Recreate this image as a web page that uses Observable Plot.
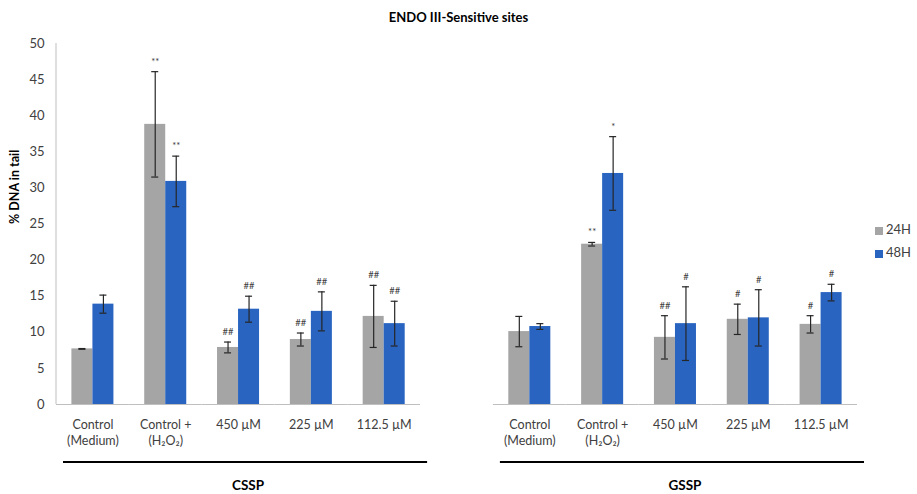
<!DOCTYPE html>
<html>
<head>
<meta charset="utf-8">
<script src="https://cdn.jsdelivr.net/npm/d3@7"></script>
<script src="https://cdn.jsdelivr.net/npm/@observablehq/plot@0.6"></script>
<style>
  body { margin: 0; background: #fff; }
  #wrap { position: relative; width: 917px; height: 494px; font-family: Lato, "Open Sans", "DejaVu Sans", sans-serif; }
  #title { height: 34px; line-height: 34px; text-align: center; font-weight: bold; font-size: 13px; color: #000; }
</style>
</head>
<body>
<div id="wrap">
  <div id="title">ENDO III-Sensitive sites</div>
  <div id="chart"></div>
</div>
<script>
// ---- data ----
const categories = ["Control\n(Medium)", "Control +\n(H\u2082O\u2082)", "450 \u00b5M", "225 \u00b5M", "112.5 \u00b5M"];
const groups = ["CSSP", "GSSP"];
const series = ["24H", "48H"];
const yTicks = [0, 5, 10, 15, 20, 25, 30, 35, 40, 45, 50];

const csspMean24 = [7.7, 38.8, 7.9, 9.0, 12.2];
const csspErr24  = [0.05, 7.3, 0.75, 0.9, 4.3];
const csspMean48 = [13.9, 30.9, 13.2, 12.9, 11.2];
const csspErr48  = [1.25, 3.5, 1.8, 2.7, 3.1];
const gsspMean24 = [10.1, 22.2, 9.3, 11.8, 11.1];
const gsspErr24  = [2.1, 0.25, 3.0, 2.1, 1.2];
const gsspMean48 = [10.8, 32.0, 11.2, 12.0, 15.5];
const gsspErr48  = [0.4, 5.1, 5.1, 3.9, 1.15];
const csspSig24 = ["", "**", "##", "##", "##"];
const csspSig48 = ["", "**", "##", "##", "##"];
const gsspSig24 = ["", "**", "##", "#", "#"];
const gsspSig48 = ["", "*", "#", "#", "#"];

// ---- build table ----
const table = {
  CSSP: {"24H": [csspMean24, csspErr24, csspSig24], "48H": [csspMean48, csspErr48, csspSig48]},
  GSSP: {"24H": [gsspMean24, gsspErr24, gsspSig24], "48H": [gsspMean48, gsspErr48, gsspSig48]}
};
const keyOf = (g, i) => g + "|" + i;
const labelOf = {};
const fxDomain = [];
groups.forEach((g, gi) => {
  if (gi > 0) { fxDomain.push("gap"); labelOf["gap"] = ""; }
  categories.forEach((c, i) => { fxDomain.push(keyOf(g, i)); labelOf[keyOf(g, i)] = c; });
});
const data = [];
groups.forEach(g => series.forEach(s => categories.forEach((c, i) => {
  const [m, e, sig] = table[g][s];
  data.push({key: keyOf(g, i), group: g, series: s, value: m[i], lo: m[i] - e[i], hi: m[i] + e[i], sig: sig[i]});
})));
const firstKey = fxDomain[0];

const font = "Lato, 'Open Sans', 'DejaVu Sans', sans-serif";
const plot = Plot.plot({
  width: 917,
  height: 460,
  marginTop: 9,
  marginBottom: 90,
  marginLeft: 56,
  marginRight: 60,
  style: {fontFamily: font, fontSize: "13px", color: "#404040", background: "#fff", overflow: "visible"},
  fx: {domain: fxDomain, padding: 0, round: false},
  x: {domain: series, paddingInner: 0, paddingOuter: 0.733, round: false, axis: null},
  y: {domain: [0, 50]},
  color: {domain: series, range: ["#A5A5A5", "#2864C0"]},
  marks: [
    Plot.barY(data, {fx: "key", x: "series", y: "value", fill: "series"}),
    Plot.ruleY([0], {stroke: "#BFBFBF", strokeWidth: 1}),
    Plot.ruleX(data, {fx: "key", x: "series", y1: "lo", y2: "hi", stroke: "#262626", strokeWidth: 1.2}),
    Plot.tickY(data, {fx: "key", x: "series", y: "hi", stroke: "#262626", strokeWidth: 1.2, insetLeft: 7, insetRight: 7}),
    Plot.tickY(data, {fx: "key", x: "series", y: "lo", stroke: "#262626", strokeWidth: 1.2, insetLeft: 7, insetRight: 7}),
    Plot.text(data.filter(d => d.sig), {fx: "key", x: "series", y: "hi", text: "sig", dy: -10, fontSize: 9.5, fill: "#404040"}),
    Plot.axisY(yTicks, {fx: () => firstKey, facetAnchor: null, tickSize: 0, tickPadding: 12, label: null, fontSize: 13}),
    Plot.axisFx({anchor: "bottom", tickSize: 0, tickPadding: 13, tickFormat: k => labelOf[k], label: null, fontSize: 12.5, lineHeight: 1.3}),
    Plot.text(["% DNA in tail"], {fx: () => firstKey, frameAnchor: "left", dx: -42, rotate: -90, fontWeight: "bold", fontSize: 12.5, fill: "#000"})
  ]
});
document.getElementById("chart").appendChild(plot);

// ---- extra decorations positioned from Plot scales ----
const svg = d3.select(plot.tagName.toLowerCase() === "svg" ? plot : plot.querySelector("svg"));
const fxs = plot.scale("fx");
const ys = plot.scale("y");
const colors = plot.scale("color");
const fxBand = d3.scaleBand().domain(fxs.domain).range(fxs.range).padding(0);
const y0 = ys.apply ? ys.apply(0) : ys.range[0];
const y50 = ys.apply ? ys.apply(50) : ys.range[1];
const left = fxs.range[0];

// y axis line
svg.append("line").attr("x1", left).attr("x2", left).attr("y1", y50).attr("y2", y0)
  .attr("stroke", "#BFBFBF").attr("stroke-width", 1);

// group underline + labels
groups.forEach(g => {
  const x1 = fxBand(keyOf(g, 0)) + 7;
  const x2 = fxBand(keyOf(g, categories.length - 1)) + fxBand.bandwidth() + 7;
  svg.append("line").attr("x1", x1).attr("x2", x2).attr("y1", y0 + 58).attr("y2", y0 + 58)
    .attr("stroke", "#000").attr("stroke-width", 2);
  svg.append("text").attr("x", (x1 + x2) / 2 + 3).attr("y", y0 + 83).attr("text-anchor", "middle")
    .attr("dominant-baseline", "middle").attr("font-weight", "bold").attr("font-size", 13.5)
    .attr("font-family", font).attr("fill", "#000").text(g);
});

// legend
series.forEach((s, i) => {
  const cy = 197 + i * 23;
  svg.append("rect").attr("x", 875).attr("y", cy - 4).attr("width", 8).attr("height", 8)
    .attr("fill", colors.apply(s));
  svg.append("text").attr("x", 886).attr("y", cy).attr("text-anchor", "start").attr("dominant-baseline", "middle")
    .attr("font-size", 13).attr("font-family", font).attr("fill", "#404040").text(s);
});
</script>
</body>
</html>
